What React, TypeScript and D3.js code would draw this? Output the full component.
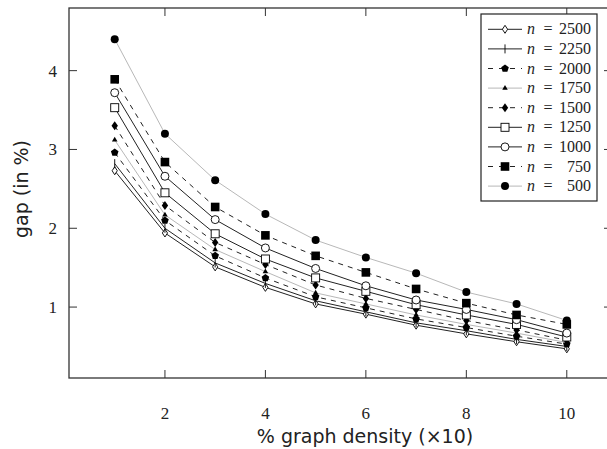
import React from 'react';
import * as d3 from 'd3';

// x positions (% graph density, x10)
const density = [1, 2, 3, 4, 5, 6, 7, 8, 9, 10];

// gap (in %) per graph size n
const gap2500 = [2.73, 1.94, 1.51, 1.25, 1.04, 0.91, 0.77, 0.66, 0.56, 0.47];
const gap2250 = [2.82, 2.0, 1.56, 1.3, 1.08, 0.94, 0.8, 0.7, 0.59, 0.5];
const gap2000 = [2.96, 2.1, 1.65, 1.37, 1.13, 0.99, 0.85, 0.74, 0.63, 0.53];
const gap1750 = [3.12, 2.17, 1.73, 1.45, 1.18, 1.04, 0.9, 0.78, 0.67, 0.55];
const gap1500 = [3.3, 2.29, 1.82, 1.54, 1.28, 1.11, 0.97, 0.83, 0.71, 0.58];
const gap1250 = [3.53, 2.45, 1.93, 1.61, 1.37, 1.2, 1.03, 0.9, 0.78, 0.62];
const gap1000 = [3.72, 2.66, 2.11, 1.75, 1.49, 1.27, 1.09, 0.97, 0.84, 0.67];
const gap750 = [3.89, 2.84, 2.27, 1.91, 1.65, 1.44, 1.23, 1.05, 0.9, 0.78];
const gap500 = [4.4, 3.2, 2.61, 2.18, 1.85, 1.63, 1.43, 1.19, 1.04, 0.83];

const xTicks = [2, 4, 6, 8, 10];
const yTicks = [1, 2, 3, 4];

type Marker = 'diamondOpen' | 'bar' | 'pentagon' | 'triangle' | 'diamond' | 'squareOpen' | 'circleOpen' | 'square' | 'circle';

const series: { n: string; values: number[]; marker: Marker; color: string; dash?: string }[] = [
  { n: '2500', values: gap2500, marker: 'diamondOpen', color: '#222' },
  { n: '2250', values: gap2250, marker: 'bar', color: '#222' },
  { n: '2000', values: gap2000, marker: 'pentagon', color: '#222', dash: '5,5' },
  { n: '1750', values: gap1750, marker: 'triangle', color: '#b8b8b8' },
  { n: '1500', values: gap1500, marker: 'diamond', color: '#222', dash: '5,5' },
  { n: '1250', values: gap1250, marker: 'squareOpen', color: '#222' },
  { n: '1000', values: gap1000, marker: 'circleOpen', color: '#222' },
  { n: '750', values: gap750, marker: 'square', color: '#222', dash: '5,5' },
  { n: '500', values: gap500, marker: 'circle', color: '#b8b8b8' },
];

const width = 607,
  height = 449;
const frame = { left: 69, right: 612, top: 8, bottom: 378 };

const x = d3.scaleLinear().domain([0.09, 10.9]).range([frame.left, frame.right]);
const y = d3.scaleLinear().domain([0.1, 4.795]).range([frame.bottom, frame.top]);

const line = d3
  .line<number>()
  .x((_, i) => x(density[i]))
  .y((d) => y(d));

const polygon = (k: number, r: number) =>
  d3.range(k).map((i) => {
    const a = -Math.PI / 2 + (i * 2 * Math.PI) / k;
    return `${(r * Math.cos(a)).toFixed(2)},${(r * Math.sin(a)).toFixed(2)}`;
  }).join(' ');

function MarkerShape({ type, cx, cy }: { type: Marker; cx: number; cy: number }) {
  const t = `translate(${cx},${cy})`;
  const sw = 0.9;
  switch (type) {
    case 'diamondOpen':
      return <path transform={t} d='M0,-4 L2.6,0 L0,4 L-2.6,0Z' fill='#fff' stroke='#000' strokeWidth={sw} />;
    case 'bar':
      return <line transform={t} x1={0} x2={0} y1={-4.5} y2={4.5} stroke='#000' strokeWidth={sw} />;
    case 'pentagon':
      return <polygon transform={t} points={polygon(5, 4)} fill='#000' />;
    case 'triangle':
      return <polygon transform={t} points={polygon(3, 3.2)} fill='#000' />;
    case 'diamond':
      return <path transform={t} d='M0,-4.5 L3.2,0 L0,4.5 L-3.2,0Z' fill='#000' />;
    case 'squareOpen':
      return <rect transform={t} x={-4} y={-4} width={8} height={8} fill='#fff' stroke='#000' strokeWidth={sw} />;
    case 'circleOpen':
      return <circle transform={t} r={4} fill='#fff' stroke='#000' strokeWidth={sw} />;
    case 'square':
      return <rect transform={t} x={-4.3} y={-4.3} width={8.6} height={8.6} fill='#000' />;
    case 'circle':
      return <circle transform={t} r={4} fill='#000' />;
  }
}

export default function App() {
  const serif = 'Liberation Serif, DejaVu Serif, serif';
  const sans = 'DejaVu Sans, Liberation Sans, sans-serif';
  const tick = 8;
  const legend = { x: 481, y: 14, w: 116, h: 187, row: 19.6 };

  return (
    <div>
      <style>{'body{margin:0}'}</style>
      <svg width={width} height={height} viewBox={`0 0 ${width} ${height}`} style={{ display: 'block', background: '#fff' }}>
        {/* frame + ticks */}
        <rect x={frame.left} y={frame.top} width={frame.right - frame.left} height={frame.bottom - frame.top} fill='none' stroke='#333' strokeWidth={1.3} />
        {xTicks.map((v) => (
          <g key={'x' + v}>
            <line x1={x(v)} x2={x(v)} y1={frame.bottom} y2={frame.bottom - tick} stroke='#333' />
            <line x1={x(v)} x2={x(v)} y1={frame.top} y2={frame.top + tick} stroke='#333' />
            <text x={x(v)} y={419} textAnchor='middle' fontFamily={serif} fontSize={17} fill='#222'>
              {v}
            </text>
          </g>
        ))}
        {yTicks.map((v) => (
          <g key={'y' + v}>
            <line x1={frame.left} x2={frame.left + tick} y1={y(v)} y2={y(v)} stroke='#333' />
            <line x1={frame.right} x2={frame.right - tick} y1={y(v)} y2={y(v)} stroke='#333' />
            <text x={57} y={y(v) + 6} textAnchor='end' fontFamily={serif} fontSize={17} fill='#222'>
              {v}
            </text>
          </g>
        ))}
        <text x={365} y={443} textAnchor='middle' fontFamily={sans} fontSize={19} fill='#222'>
          % graph density (×10)
        </text>
        <text transform={`translate(28,189) rotate(-90)`} textAnchor='middle' fontFamily={sans} fontSize={19} fill='#222'>
          gap (in %)
        </text>

        {/* series */}
        {series.map((s) => (
          <g key={s.n}>
            <path d={line(s.values) || ''} fill='none' stroke={s.color} strokeWidth={1} strokeDasharray={s.dash} />
            {s.values.map((v, i) => (
              <MarkerShape key={i} type={s.marker} cx={x(density[i])} cy={y(v)} />
            ))}
          </g>
        ))}

        {/* legend */}
        <rect x={legend.x} y={legend.y} width={legend.w} height={legend.h} fill='#fff' stroke='#222' strokeWidth={1.2} />
        {series.map((s, i) => {
          const cy = legend.y + 15.3 + i * legend.row;
          return (
            <g key={'l' + s.n}>
              <line x1={488} x2={522} y1={cy} y2={cy} stroke={s.color} strokeWidth={1} strokeDasharray={s.dash ? '5,6' : undefined} />
              <MarkerShape type={s.marker} cx={505} cy={cy} />
              <text x={527} y={cy + 5} fontFamily={serif} fontSize={16} fontStyle='italic' fill='#222'>
                n
              </text>
              <text x={548} y={cy + 5} textAnchor='middle' fontFamily={serif} fontSize={16} fill='#222'>
                =
              </text>
              <text x={591} y={cy + 5} textAnchor='end' fontFamily={serif} fontSize={16} fill='#222'>
                {s.n}
              </text>
            </g>
          );
        })}
      </svg>
    </div>
  );
}
